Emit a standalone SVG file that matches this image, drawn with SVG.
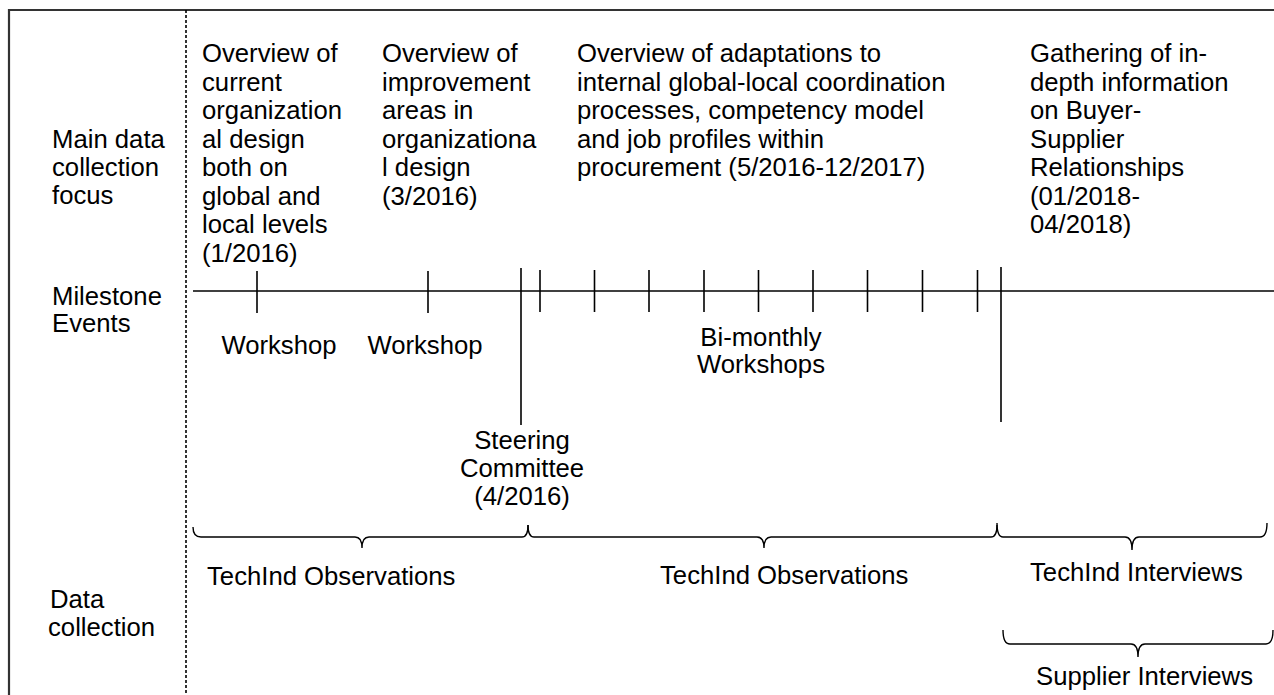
<svg xmlns="http://www.w3.org/2000/svg" width="1274" height="695" viewBox="0 0 1274 695">
<style>
text{font-family:"Liberation Sans",Arial,sans-serif;font-size:25.7px;fill:#000}
.c{text-anchor:middle}
.ln{stroke:#000;stroke-width:1.6;fill:none}
.br{stroke:#000;stroke-width:1.4;fill:none}
</style>
<rect width="1274" height="695" fill="#fff"/>
<g id="frame">
<path d="M9,695 V10 H1274" stroke="#333" stroke-width="2.2" fill="none"/>
<line x1="186" y1="10" x2="186" y2="695" stroke="#000" stroke-width="1.6" stroke-dasharray="3,2"/>
</g>
<g id="row-labels">
<text x="52" y="148">Main data</text>
<text x="52" y="176">collection</text>
<text x="52" y="204">focus</text>
<text x="52" y="305">Milestone</text>
<text x="52" y="332">Events</text>
<text x="50" y="608">Data</text>
<text x="48" y="636">collection</text>
</g>
<g id="focus1">
<text x="202" y="62">Overview of</text>
<text x="202" y="90.5">current</text>
<text x="202" y="119">organization</text>
<text x="202" y="147.5">al design</text>
<text x="202" y="176">both on</text>
<text x="202" y="204.5">global and</text>
<text x="202" y="233">local levels</text>
<text x="202" y="261.5">(1/2016)</text>
</g>
<g id="focus2">
<text x="382" y="62">Overview of</text>
<text x="382" y="90.5">improvement</text>
<text x="382" y="119">areas in</text>
<text x="382" y="147.5">organizationa</text>
<text x="382" y="176">l design</text>
<text x="382" y="204.5">(3/2016)</text>
</g>
<g id="focus3">
<text x="577" y="62">Overview of adaptations to</text>
<text x="577" y="90.5">internal global-local coordination</text>
<text x="577" y="119">processes, competency model</text>
<text x="577" y="147.5">and job profiles within</text>
<text x="577" y="176">procurement (5/2016-12/2017)</text>
</g>
<g id="focus4">
<text x="1030" y="62">Gathering of in-</text>
<text x="1030" y="90.5">depth information</text>
<text x="1030" y="119">on Buyer-</text>
<text x="1030" y="147.5">Supplier</text>
<text x="1030" y="176">Relationships</text>
<text x="1030" y="204.5">(01/2018-</text>
<text x="1030" y="233">04/2018)</text>
</g>
<g id="timeline">
<line class="ln" x1="193" y1="291" x2="1274" y2="291"/>
<line class="ln" x1="257" y1="271" x2="257" y2="313"/>
<line class="ln" x1="428" y1="271" x2="428" y2="313"/>
<line class="ln" x1="521" y1="268" x2="521" y2="425"/>
<line class="ln" x1="540" y1="270" x2="540" y2="312"/>
<line class="ln" x1="594.5" y1="270" x2="594.5" y2="312"/>
<line class="ln" x1="649" y1="270" x2="649" y2="312"/>
<line class="ln" x1="704" y1="270" x2="704" y2="312"/>
<line class="ln" x1="758.5" y1="270" x2="758.5" y2="312"/>
<line class="ln" x1="813" y1="270" x2="813" y2="312"/>
<line class="ln" x1="867.5" y1="270" x2="867.5" y2="312"/>
<line class="ln" x1="922.5" y1="270" x2="922.5" y2="312"/>
<line class="ln" x1="977.5" y1="270" x2="977.5" y2="312"/>
<line class="ln" x1="1001" y1="267" x2="1001" y2="422"/>
</g>
<g id="milestones">
<text class="c" x="279" y="354">Workshop</text>
<text class="c" x="425" y="354">Workshop</text>
<text class="c" x="761" y="346">Bi-monthly</text>
<text class="c" x="761" y="373">Workshops</text>
<text class="c" x="522" y="449">Steering</text>
<text class="c" x="522" y="477">Committee</text>
<text class="c" x="522" y="505">(4/2016)</text>
</g>
<g id="braces">
<path class="br" d="M193,527 Q193,537 201,537 L355,537 Q362,537 362,548 Q362,537 369,537 L522,537 Q528,537 528,525"/>
<path class="br" d="M528,525 Q528,537 534,537 L757,537 Q764,537 764,548 Q764,537 771,537 L991,537 Q997,537 997,525"/>
<path class="br" d="M997,523 Q997,537 1003,537 L1125,537 Q1132,537 1132,550 Q1132,537 1139,537 L1260,537 Q1267,537 1267,523"/>
<path class="br" d="M1003,630 Q1003,644 1010,644 L1131,644 Q1138,644 1138,657 Q1138,644 1145,644 L1266,644 Q1273,644 1273,630"/>
</g>
<g id="data-labels">
<text x="207" y="585">TechInd Observations</text>
<text x="660" y="584">TechInd Observations</text>
<text x="1030" y="581">TechInd Interviews</text>
<text x="1036" y="685">Supplier Interviews</text>
</g>
</svg>
